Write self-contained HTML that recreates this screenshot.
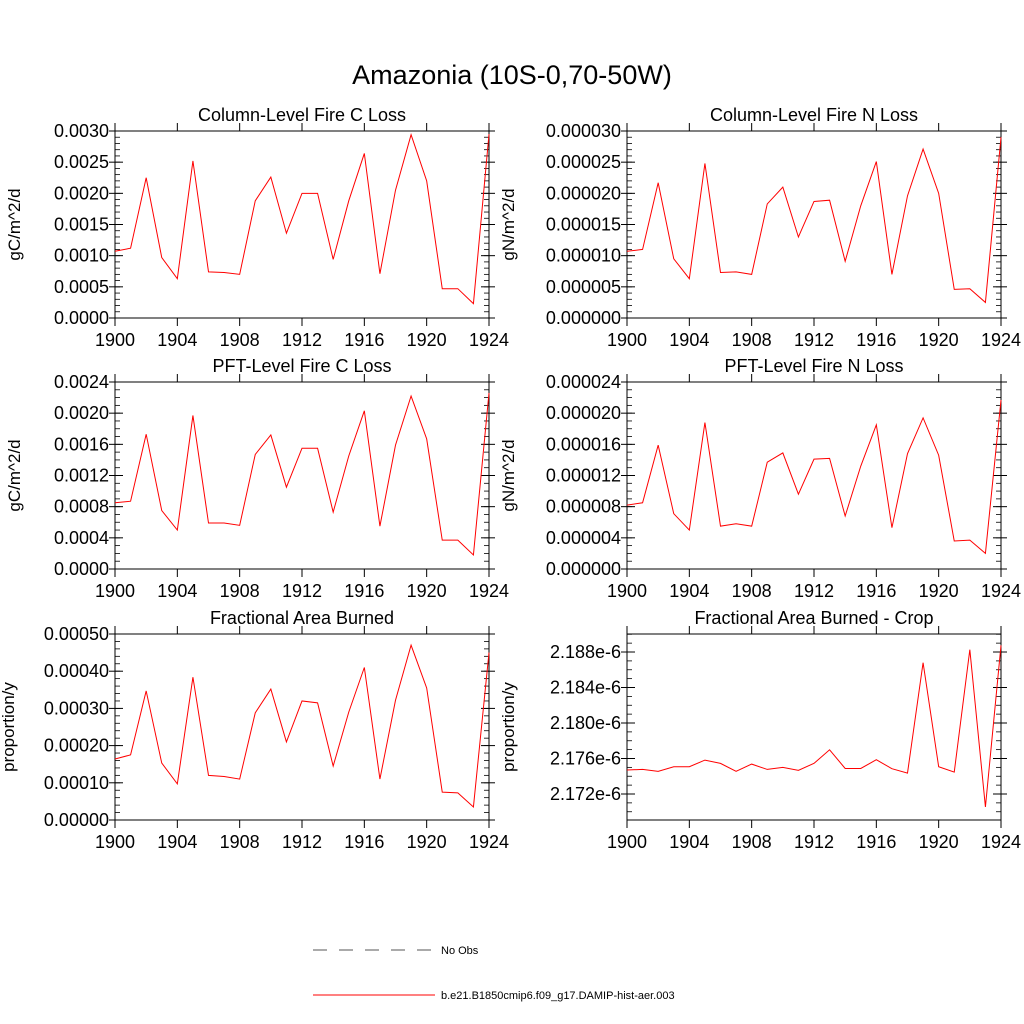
<!DOCTYPE html>
<html><head><meta charset="utf-8"><style>
html,body{margin:0;padding:0;background:#fff;width:1024px;height:1024px;overflow:hidden}
svg{display:block;font-family:"Liberation Sans",sans-serif}
</style></head><body>
<svg id="chart" width="1024" height="1024" viewBox="0 0 1024 1024">
<text x="512" y="84" font-size="27" text-anchor="middle">Amazonia (10S-0,70-50W)</text>
<g id="panels"></g>
<g>
<line x1="313" y1="950" x2="435" y2="950" stroke="#555" stroke-width="1" stroke-dasharray="14,12"/>
<text x="441" y="954" font-size="11">No Obs</text>
<line x1="313" y1="995" x2="435" y2="995" stroke="#f00" stroke-width="1"/>
<text x="441" y="999" font-size="11">b.e21.B1850cmip6.f09_g17.DAMIP-hist-aer.003</text>
</g>
</svg>
<script>
const years = [1900,1901,1902,1903,1904,1905,1906,1907,1908,1909,1910,1911,1912,1913,1914,1915,1916,1917,1918,1919,1920,1921,1922,1923,1924];
const xTicks = [1900,1904,1908,1912,1916,1920,1924];
const colFireC = [0.00107,0.00112,0.00225,0.00097,0.00063,0.00252,0.00074,0.00073,0.0007,0.00188,0.00226,0.00136,0.002,0.002,0.00094,0.00188,0.00264,0.00071,0.00205,0.00294,0.0022,0.00047,0.00047,0.00023,0.00295];
const colFireN = [1.07e-5,1.1e-5,2.17e-5,0.95e-5,0.63e-5,2.48e-5,0.73e-5,0.74e-5,0.7e-5,1.83e-5,2.1e-5,1.3e-5,1.87e-5,1.89e-5,0.91e-5,1.8e-5,2.51e-5,0.7e-5,1.96e-5,2.71e-5,2.0e-5,0.46e-5,0.47e-5,0.25e-5,2.9e-5];
const pftFireC = [0.00085,0.00087,0.00173,0.00075,0.0005,0.00197,0.00059,0.00059,0.00056,0.00147,0.00172,0.00105,0.00155,0.00155,0.00073,0.00145,0.00203,0.00055,0.00159,0.00222,0.00167,0.00037,0.00037,0.00018,0.00226];
const pftFireN = [8.2e-6,8.5e-6,15.9e-6,7.1e-6,5e-6,18.8e-6,5.5e-6,5.8e-6,5.5e-6,13.7e-6,14.9e-6,9.6e-6,14.1e-6,14.2e-6,6.8e-6,13.2e-6,18.5e-6,5.3e-6,14.8e-6,19.4e-6,14.6e-6,3.6e-6,3.7e-6,2e-6,21.7e-6];
const fracBurned = [0.000164,0.000175,0.000347,0.000153,0.000097,0.000384,0.00012,0.000117,0.00011,0.000288,0.000352,0.00021,0.00032,0.000315,0.000145,0.00029,0.00041,0.00011,0.000322,0.00047,0.000355,0.000075,0.000073,0.000035,0.00045];
const fracCrop = [2.17470,2.17477,2.17455,2.17507,2.17507,2.17582,2.17545,2.17455,2.17537,2.17477,2.17500,2.17466,2.17545,2.17698,2.17488,2.17488,2.17586,2.17485,2.17436,2.18680,2.17507,2.17447,2.18826,2.17054,2.18875];
const ticksC = ["0.0000","0.0005","0.0010","0.0015","0.0020","0.0025","0.0030"];
const ticksN = ["0.000000","0.000005","0.000010","0.000015","0.000020","0.000025","0.000030"];
const ticksPC = ["0.0000","0.0004","0.0008","0.0012","0.0016","0.0020","0.0024"];
const ticksPN = ["0.000000","0.000004","0.000008","0.000012","0.000016","0.000020","0.000024"];
const ticksF = ["0.00000","0.00010","0.00020","0.00030","0.00040","0.00050"];
const ticksCrop = ["2.172e-6","2.176e-6","2.180e-6","2.184e-6","2.188e-6"];

const NS="http://www.w3.org/2000/svg";
const root=document.getElementById('panels');
function mk(tag,attrs,parent){const e=document.createElementNS(NS,tag);for(const k in attrs)e.setAttribute(k,attrs[k]);parent.appendChild(e);return e;}

function panel(o){
  const g=mk('g',{},root);
  
  
  const L=o.x0,R=o.x1,T=o.y0,B=o.y1;
  const xs=v=>L+(v-1900)/24*(R-L);
  const ys=v=>B-(v-o.ymin)/(o.ymax-o.ymin)*(B-T);
  const frame=mk('rect',{x:L,y:T,width:R-L,height:B-T,fill:'none',stroke:'#000','stroke-width':1},g);
  
  
  xTicks.forEach(t=>{
    const x=xs(t);
    mk('line',{x1:x,y1:B,x2:x,y2:B+8,stroke:'#000'},g);
    mk('line',{x1:x,y1:T-8,x2:x,y2:T,stroke:'#000'},g);
    const lb=mk('text',{x:x,y:B+28,'font-size':18,'text-anchor':'middle'},g);
    lb.textContent=t;
    
    
  });
  for(let v=o.minorStart; v<=o.ymax+1e-12; v+=o.minorStep){
    const y=ys(v); if(y<T-0.5||y>B+0.5)continue;
    mk('line',{x1:L,y1:y,x2:L+5,y2:y,stroke:'#000','stroke-width':0.8},g);
    mk('line',{x1:R-5,y1:y,x2:R,y2:y,stroke:'#000','stroke-width':0.8},g);
  }
  o.ticks.forEach(s=>{
    const v=parseFloat(s)*o.scale;
    const y=ys(v);
    mk('line',{x1:L-6,y1:y,x2:L+8,y2:y,stroke:'#000'},g);
    mk('line',{x1:R-8,y1:y,x2:R+6,y2:y,stroke:'#000'},g);
    const lb=mk('text',{x:L-6,y:y+6,'font-size':18,'text-anchor':'end'},g);
    lb.textContent=s;
    
    
  });
  const t=mk('text',{x:(L+R)/2,y:T-10,'font-size':18,'text-anchor':'middle'},g);
  t.textContent=o.title;
  
  
  const yt=mk('text',{x:0,y:0,'font-size':17,'text-anchor':'middle',transform:`translate(${o.ytx},${(T+B)/2}) rotate(-90)`},g);
  yt.textContent=o.ytitle;
  
  
  const pts=o.data.map((v,i)=>xs(years[i]).toFixed(2)+','+ys(v*o.dscale).toFixed(2)).join(' ');
  const pl=mk('polyline',{points:pts,fill:'none',stroke:'#f00','stroke-width':1},g);
  
  
}
const LX0=115,LX1=489,RX0=627,RX1=1001;
panel({name:'panel-column-fire-c',x0:LX0,x1:LX1,y0:131,y1:318,ymin:0,ymax:0.003,ticks:ticksC,scale:1,dscale:1,minorStart:0,minorStep:0.0001,data:colFireC,title:'Column-Level Fire C Loss',ytitle:'gC/m^2/d',ytx:20});
panel({name:'panel-column-fire-n',x0:RX0,x1:RX1,y0:131,y1:318,ymin:0,ymax:0.00003,ticks:ticksN,scale:1,dscale:1,minorStart:0,minorStep:0.000001,data:colFireN,title:'Column-Level Fire N Loss',ytitle:'gN/m^2/d',ytx:514});
panel({name:'panel-pft-fire-c',x0:LX0,x1:LX1,y0:382,y1:569,ymin:0,ymax:0.0024,ticks:ticksPC,scale:1,dscale:1,minorStart:0,minorStep:0.0001,data:pftFireC,title:'PFT-Level Fire C Loss',ytitle:'gC/m^2/d',ytx:20});
panel({name:'panel-pft-fire-n',x0:RX0,x1:RX1,y0:382,y1:569,ymin:0,ymax:0.000024,ticks:ticksPN,scale:1,dscale:1,minorStart:0,minorStep:0.000001,data:pftFireN,title:'PFT-Level Fire N Loss',ytitle:'gN/m^2/d',ytx:514});
panel({name:'panel-fractional-area-burned',x0:LX0,x1:LX1,y0:634,y1:820,ymin:0,ymax:0.0005,ticks:ticksF,scale:1,dscale:1,minorStart:0,minorStep:0.00002,data:fracBurned,title:'Fractional Area Burned',ytitle:'proportion/y',ytx:14});
panel({name:'panel-fractional-area-burned-crop',x0:RX0,x1:RX1,y0:634,y1:820,ymin:2.16907,ymax:2.19003,ticks:ticksCrop,scale:1e6,dscale:1,minorStart:2.170,minorStep:0.001,data:fracCrop,title:'Fractional Area Burned - Crop',ytitle:'proportion/y',ytx:514});
</script>
</body></html>
